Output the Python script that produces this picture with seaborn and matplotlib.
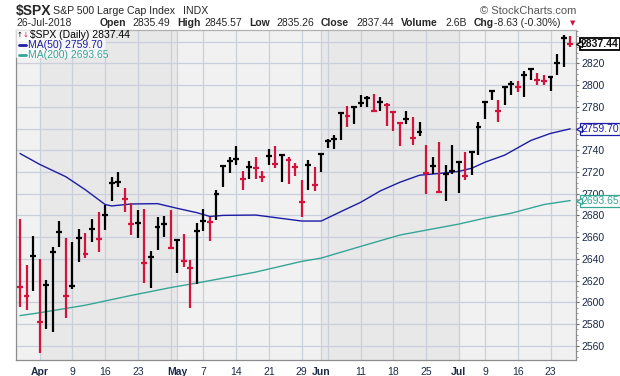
import numpy as np
import pandas as pd
import matplotlib
matplotlib.use("Agg")
import matplotlib.pyplot as plt
import matplotlib.transforms as mtransforms
from matplotlib.patches import Rectangle
import seaborn as sns

sns.set_style("white")
plt.rcParams['font.family'] = ['Liberation Sans', 'DejaVu Sans']

# trading days on the chart (Good Friday, Memorial Day and Jul 4 closed)
days = pd.bdate_range("2018-03-27", "2018-07-26")
days = days.drop(pd.to_datetime(["2018-03-30", "2018-05-28", "2018-07-04"]))

high = [2676.7, 2634.3, 2661.0, 2639.8, 2620.5, 2651.2, 2675.1, 2659.4, 2655.8, 2667.5,
        2664.0, 2676.7, 2682.8, 2689.6, 2715.0, 2720.0, 2705.6, 2691.7, 2685.0, 2685.9,
        2647.2, 2678.5, 2679.4, 2685.0, 2658.0, 2662.9, 2638.9, 2672.7, 2685.9, 2678.8,
        2703.4, 2726.4, 2734.0, 2743.9, 2720.9, 2730.1, 2733.5, 2721.1, 2740.8, 2743.9,
        2736.2, 2733.5, 2728.5, 2712.6, 2731.0, 2724.3, 2737.7, 2750.0, 2753.7, 2774.0,
        2780.7, 2780.1, 2790.8, 2789.9, 2791.8, 2789.3, 2783.8, 2775.5, 2765.3, 2776.1,
        2770.3, 2765.7, 2744.8, 2734.0, 2747.8, 2726.4, 2744.8, 2730.1, 2738.4, 2739.0,
        2765.7, 2785.0, 2795.2, 2786.5, 2798.9, 2804.0, 2803.5, 2813.2, 2815.7, 2811.1,
        2809.5, 2808.0, 2828.6, 2845.8, 2845.57]
low = [2595.9, 2592.9, 2610.6, 2553.0, 2575.1, 2572.9, 2651.2, 2585.8, 2611.9, 2637.3,
       2640.5, 2655.8, 2646.6, 2666.5, 2693.5, 2705.8, 2683.1, 2661.9, 2659.4, 2618.0,
       2613.4, 2648.1, 2660.4, 2650.2, 2626.7, 2632.7, 2595.0, 2616.8, 2665.9, 2656.7,
       2675.7, 2706.4, 2719.3, 2726.4, 2703.4, 2713.5, 2713.2, 2711.0, 2726.4, 2723.3,
       2711.0, 2708.9, 2716.3, 2678.8, 2703.4, 2702.7, 2720.2, 2741.8, 2740.8, 2749.4,
       2761.7, 2764.1, 2780.1, 2779.5, 2774.9, 2776.4, 2762.3, 2758.0, 2744.2, 2764.1,
       2744.8, 2753.1, 2699.7, 2718.1, 2701.2, 2693.5, 2718.1, 2700.9, 2712.9, 2717.5,
       2735.3, 2769.0, 2786.5, 2766.0, 2781.4, 2791.1, 2793.3, 2789.0, 2804.4, 2799.8,
       2799.8, 2794.8, 2809.5, 2816.3, 2835.26]
close = [2614.3, 2606.0, 2642.6, 2581.8, 2615.9, 2646.6, 2665.0, 2606.0, 2615.0, 2659.4,
         2644.4, 2667.2, 2658.5, 2680.3, 2709.5, 2711.0, 2695.4, 2672.1, 2673.3, 2636.4,
         2642.0, 2669.6, 2672.1, 2650.2, 2657.3, 2638.0, 2631.8, 2665.9, 2675.1, 2674.2,
         2699.7, 2725.7, 2730.3, 2731.9, 2713.8, 2724.8, 2723.3, 2715.6, 2735.0, 2727.0,
         2735.6, 2731.0, 2724.3, 2692.6, 2726.4, 2708.0, 2736.5, 2748.8, 2750.0, 2774.0,
         2771.5, 2780.1, 2783.2, 2788.4, 2776.4, 2784.1, 2781.6, 2774.9, 2764.8, 2768.7,
         2751.5, 2757.1, 2719.3, 2725.5, 2701.7, 2718.1, 2721.1, 2729.4, 2716.0, 2738.4,
         2761.4, 2784.4, 2794.3, 2775.8, 2798.2, 2801.0, 2798.2, 2809.5, 2814.8, 2804.4,
         2803.5, 2807.1, 2820.3, 2843.3, 2837.44]
prev_close = 2658.6  # close before the first bar, only sets its colour

# moving averages, read at selected bars (bar index, value)
ma50_idx = [0, 3, 7, 10, 12, 13, 14, 17, 21, 24, 27, 29, 31, 34, 36, 43, 46, 49, 52, 55,
            58, 61, 64, 67, 69, 71, 74, 78, 81, 84]
ma50_val = [2737.0, 2727.0, 2715.6, 2703.5, 2694.5, 2690.0, 2688.7, 2690.5, 2690.8, 2686.5,
            2682.5, 2679.0, 2680.0, 2680.2, 2680.3, 2674.8, 2674.8, 2683.5, 2692.0, 2702.5,
            2710.5, 2717.0, 2718.6, 2720.5, 2723.5, 2729.0, 2735.5, 2749.0, 2755.5, 2759.70]
ma200_idx = [0, 3, 10, 17, 23, 28, 36, 43, 46, 52, 58, 67, 71, 75, 80, 84]
ma200_val = [2587.7, 2590.3, 2597.3, 2606.3, 2613.5, 2618.8, 2627.8, 2637.6, 2640.7, 2651.4,
             2661.9, 2672.0, 2677.5, 2682.0, 2690.0, 2693.65]

month_starts = ["2018-04-02", "2018-05-01", "2018-06-01", "2018-07-02"]
grid_days = ["2018-04-02", "2018-04-09", "2018-04-16", "2018-04-23", "2018-04-30", "2018-05-01",
             "2018-05-07", "2018-05-14", "2018-05-21", "2018-05-29", "2018-06-01", "2018-06-04",
             "2018-06-11", "2018-06-18", "2018-06-25", "2018-07-02", "2018-07-09", "2018-07-16",
             "2018-07-23"]
label_days = ["2018-04-02", "2018-04-09", "2018-04-16", "2018-04-23", "2018-05-01", "2018-05-07",
              "2018-05-14", "2018-05-21", "2018-05-29", "2018-06-01", "2018-06-11", "2018-06-18",
              "2018-06-25", "2018-07-02", "2018-07-09", "2018-07-16", "2018-07-23"]
label_text = ["Apr", "9", "16", "23", "May", "7", "14", "21", "29", "Jun", "11", "18", "25",
              "Jul", "9", "16", "23"]
ytick_vals = [2560, 2580, 2600, 2620, 2640, 2660, 2680, 2700, 2720, 2740, 2780, 2800, 2820]

RED = "#d2143c"
NAVY = "#1c1ca6"
TEAL = "#35a596"
GRID = "#c9d0db"
TXT = "#1c2a48"

def idx(d):
    return days.get_loc(pd.Timestamp(d))

x = np.arange(len(days))
prev = np.r_[prev_close, close[:-1]]
colors = np.where(np.array(close) >= prev, "black", RED)

fig = plt.figure(figsize=(6.2, 3.76), dpi=100)
ax = fig.add_axes([16 / 620, 1 - 360 / 376, 560 / 620, 330.5 / 376])
ax.set_xlim(-0.61, 84.89)
ax.set_ylim(2546.8, 2851.2)

# month shading
edges = [-0.61] + [idx(d) for d in month_starts] + [84.89]
for k in range(len(edges) - 1):
    ax.axvspan(edges[k], edges[k + 1], color="#e8e8e8" if k % 2 else "#f1f1f1", zorder=0, lw=0)

for d in grid_days:
    ax.axvline(idx(d), color=GRID, lw=0.9, zorder=1)
for v in range(2560, 2841, 20):
    ax.axhline(v, color=GRID, lw=0.9, zorder=1)

sns.lineplot(x=ma200_idx, y=ma200_val, ax=ax, color=TEAL, lw=1.0, zorder=2)
sns.lineplot(x=ma50_idx, y=ma50_val, ax=ax, color=NAVY, lw=1.0, zorder=2)

ax.vlines(x, low, high, colors=colors, lw=1.6, zorder=3)
ax.hlines(close, x - 0.45, x + 0.45, colors=colors, lw=1.6, zorder=3)

# axes styling
for s in ["left", "right", "bottom", "top"]:
    ax.spines[s].set_color("#8c8c8c")
    ax.spines[s].set_linewidth(0.9)
ax.spines["top"].set_color("#b0b0b0")
ax.yaxis.tick_right()
ax.set_yticks(ytick_vals)
ax.set_yticks(range(2550, 2851, 5), minor=True)
ax.tick_params(axis="y", which="major", length=2.5, width=0.8, color="#666", pad=1.5,
               labelsize=7.5, labelcolor=TXT, direction="out")
ax.tick_params(axis="y", which="minor", length=1.2, width=0.6, color="#888", direction="out")
ax.set_xticks([idx(d) for d in label_days])
ax.set_xticklabels(label_text)
ax.set_xticks(x, minor=True)
ax.tick_params(axis="x", which="major", length=3.5, width=0.8, color="#888", pad=1.5,
               labelsize=7.5, labelcolor=TXT)
ax.tick_params(axis="x", which="minor", length=2, width=0.6, color="#999")
for lab in ax.get_xticklabels():
    if lab.get_text() in ("Apr", "May", "Jun", "Jul"):
        lab.set_fontweight("bold")
ax.set_xlabel("")
ax.set_ylabel("")

# legend block
ax.add_patch(Rectangle((0, 1 - 28 / 330.5), 90 / 560, 28 / 330.5, transform=ax.transAxes,
                       facecolor="white", alpha=0.65, lw=0, zorder=4))
ax.text(1 / 560, 1 - 5.5 / 330.5, "\u2191", color="black", fontsize=5, va="center",
        transform=ax.transAxes, zorder=5, family="DejaVu Sans")
ax.text(7 / 560, 1 - 5.5 / 330.5, "\u2193", color=RED, fontsize=5, va="center",
        transform=ax.transAxes, zorder=5, family="DejaVu Sans")
ax.text(14.5 / 560, 1 - 5.5 / 330.5, "$SPX (Daily) 2837.44", color="black", fontsize=7.5,
        va="center", transform=ax.transAxes, zorder=5)
ax.plot([3 / 560, 10 / 560], [1 - 15.5 / 330.5] * 2, color=NAVY, lw=2, transform=ax.transAxes, zorder=5)
ax.text(12 / 560, 1 - 15.5 / 330.5, "MA(50) 2759.70", color=NAVY, fontsize=7.5,
        va="center", transform=ax.transAxes, zorder=5)
ax.plot([3 / 560, 10 / 560], [1 - 25 / 330.5] * 2, color=TEAL, lw=2, transform=ax.transAxes, zorder=5)
ax.text(12 / 560, 1 - 25 / 330.5, "MA(200) 2693.65", color=TEAL, fontsize=7.5,
        va="center", transform=ax.transAxes, zorder=5)

# price tags on the right axis
trans = mtransforms.blended_transform_factory(ax.transAxes, ax.transData)
tags = [(close[-1], "2837.44", "black", "bold", 1.3), (ma50_val[-1], "2759.70", NAVY, "normal", 0.9),
        (ma200_val[-1], "2693.65", TEAL, "normal", 0.9)]
for val, txt, col, wt, bw in tags:
    ax.text(1 + 5 / 560, val, txt, transform=trans, color=col if col != "black" else "#111",
            fontsize=7.5, fontweight=wt, va="center", ha="left",
            clip_on=False, zorder=6,
            bbox=dict(boxstyle="square,pad=0.1", facecolor="white", edgecolor=col, lw=bw))
    ax.plot([1 + 2.5 / 560], [val], marker="<", ms=4.5, mfc="white", mec=col, mew=0.9,
            transform=trans, clip_on=False, zorder=7)

# header
fig.text(16 / 620, 1 - 11 / 376, "$SPX", fontsize=10, fontweight="bold", va="center")
fig.text(53 / 620, 1 - 11 / 376, "S&P 500 Large Cap Index", fontsize=7.6, va="center")
fig.text(183 / 620, 1 - 11 / 376, "INDX", fontsize=7.6, va="center")
fig.text(576 / 620, 1 - 11 / 376, "\u00a9 StockCharts.com", fontsize=8, va="center",
         ha="right", color="#555")
y2 = 1 - 23 / 376
fig.text(16 / 620, y2, "26-Jul-2018", fontsize=7.5, va="center")
parts = [(100, "Open", "bold"), (132, "2835.49", "normal"), (177, "High", "bold"),
         (204, "2845.57", "normal"), (249, "Low", "bold"), (276, "2835.26", "normal"),
         (321, "Close", "bold"), (356, "2837.44", "normal"), (401, "Volume", "bold"),
         (445, "2.6B", "normal"), (474, "Chg", "bold"), (494, "-8.63 (-0.30%)", "normal")]
for px, t, w in parts:
    fig.text(px / 620, y2, t, fontsize=7.5, fontweight=w, va="center")
fig.text(570 / 620, y2, "\u25bc", fontsize=5, color=RED, va="center", family="DejaVu Sans")

fig.savefig("out.png", dpi=100)
